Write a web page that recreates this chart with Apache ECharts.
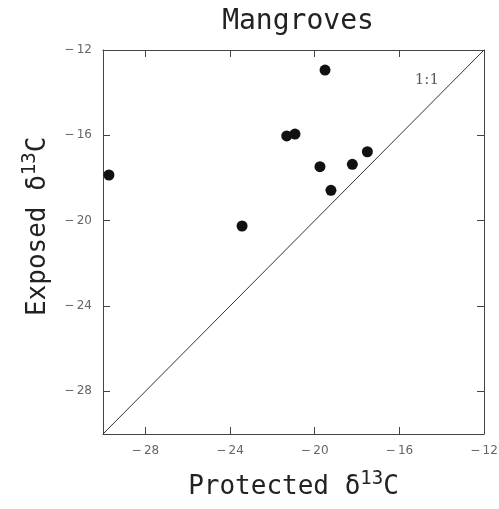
<!DOCTYPE html>
<html>
<head>
<meta charset="utf-8">
<script src="https://cdn.jsdelivr.net/npm/echarts@6/dist/echarts.min.js"></script>
<style>
  html, body { margin: 0; padding: 0; background: #fff; }
  #chart { width: 499px; height: 509px; }
</style>
</head>
<body>
<div id="chart"></div>
<script>
// values (delta 13C, per mil)
const protectedD13C = [-29.72, -23.43, -19.51, -21.32, -20.93, -17.51, -19.75, -18.22, -19.23]
const exposedD13C = [-17.86, -20.25, -12.94, -16.03, -15.94, -16.77, -17.47, -17.36, -18.58]
const oneToOne = [[-30, -30], [-12, -12]]
const oneToOneLabelAt = [-14.7, -13.4]
const axisMin = -30
const axisMax = -12
const tickVals = [-28, -24, -20, -16, -12]

const mono = '"DejaVu Sans Mono", "Liberation Mono", monospace'
const points = protectedD13C.map((x, i) => [x, exposedD13C[i]])

const lineCol = '#444'
function axisBase(pos, showLabel) {
  return {
    type: 'value',
    position: pos,
    min: axisMin,
    max: axisMax,
    interval: 2,
    splitLine: { show: false },
    axisLine: { show: true, onZero: false, lineStyle: { color: lineCol, width: 1 } },
    axisTick: {
      show: true,
      inside: true,
      length: 7,
      lineStyle: { color: lineCol },
      customValues: tickVals
    },
    axisLabel: {
      show: showLabel,
      customValues: tickVals,
      color: '#666',
      fontFamily: 'DejaVu Sans',
      fontSize: 12,
      margin: 11,
      formatter: v => String(v).replace('-', '\u2212\u2009')
    }
  }
}

const nameRich = {
  n: { fontFamily: mono, fontSize: 26, color: '#222', verticalAlign: 'bottom', lineHeight: 30 },
  s: { fontFamily: mono, fontSize: 19, color: '#222', verticalAlign: 'top', lineHeight: 30, padding: [0, 0, 12, 0] }
}

const chart = echarts.init(document.getElementById('chart'))
chart.setOption({
  animation: false,
  title: {
    text: 'Mangroves',
    left: 293,
    top: 3,
    textAlign: 'center',
    textStyle: { fontFamily: mono, fontSize: 28, fontWeight: 'normal', color: '#222' }
  },
  grid: { left: 103, right: 15, top: 50, bottom: 75, outerBoundsMode: 'none', containLabel: false },
  xAxis: [
    Object.assign(axisBase('bottom', true), {
      name: '{n|Protected δ}{s|13}{n|C}',
      nameLocation: 'middle',
      nameGap: 36,
      nameTextStyle: { rich: nameRich }
    }),
    axisBase('top', false)
  ],
  yAxis: [
    Object.assign(axisBase('left', true), {
      name: '{n|  Exposed δ}{s|13}{n|C}',
      nameLocation: 'middle',
      nameGap: 52,
      nameTextStyle: { rich: nameRich }
    }),
    axisBase('right', false)
  ],
  series: [
    {
      type: 'line',
      data: oneToOne,
      symbol: 'none',
      lineStyle: { color: '#333', width: 1 },
      silent: true
    },
    {
      type: 'scatter',
      data: [oneToOneLabelAt],
      symbolSize: 0,
      label: {
        show: true,
        formatter: '1:1',
        position: 'inside',
        fontFamily: '"DejaVu Serif", serif',
        fontSize: 15,
        color: '#333'
      }
    },
    {
      type: 'scatter',
      data: points,
      symbol: 'circle',
      symbolSize: 11,
      itemStyle: { color: '#111', opacity: 1 }
    }
  ]
})
</script>
</body>
</html>
